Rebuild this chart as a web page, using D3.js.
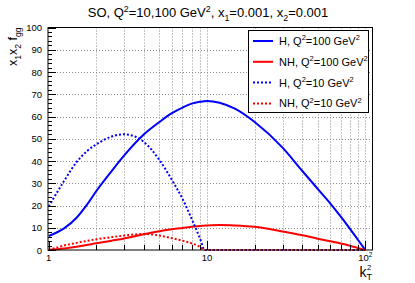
<!DOCTYPE html>
<html>
<head>
<meta charset="utf-8">
<script src="https://cdn.jsdelivr.net/npm/d3@7"></script>
<style>
  body { margin: 0; background: #fff; }
  svg { display: block; font-family: "Liberation Sans", Arial, sans-serif; }
</style>
</head>
<body>
<svg id="chart" width="415" height="283"></svg>
<script>
// values (k_T^2 on a log axis)
const kH100 = [1, 1.25, 1.5, 1.75, 2, 2.5, 3, 4, 5, 6, 7, 8, 9, 10, 12, 15, 20, 30, 40, 50, 60, 70, 80, 90, 100];
const vH100 = [6.3, 9.7, 14.5, 20.5, 26.5, 35.5, 42.5, 52, 57.5, 61.5, 64, 65.8, 66.6, 67, 66.2, 63.5, 57.5, 46, 35.5, 27.5, 21, 15, 9.5, 4.5, 0];

const kNH100 = [1, 1.25, 1.5, 2, 2.5, 3, 4, 5, 6, 7, 8, 9, 10, 12, 15, 20, 30, 40, 50, 60, 70, 80, 90, 100];
const vNH100 = [0, 0.7, 1.5, 3, 4.2, 5.2, 7.1, 8.4, 9.3, 9.9, 10.4, 10.8, 11, 11.2, 11, 10.4, 8.3, 6.6, 5.1, 3.9, 2.9, 1.9, 0.9, 0];

const kH10 = [1, 1.25, 1.5, 1.75, 2, 2.5, 3, 3.5, 4, 5, 6, 7, 8, 9, 9.7, 20, 50, 100];
const vH10 = [19.5, 31, 39.5, 44.5, 47.5, 51, 52, 51, 48.5, 40.5, 31.5, 23, 14, 5.5, 0, 0, 0, 0];

const kNH10 = [1, 1.25, 1.5, 2, 2.5, 3, 3.5, 4, 5, 6, 7, 8, 9, 9.7, 20, 50, 100];
const vNH10 = [0, 2, 3.2, 4.8, 5.8, 6.5, 7, 7.2, 6.5, 5.3, 4.2, 3, 1.5, 0, 0, 0, 0];

const seriesNames = ["H, Q^{2}=100 GeV^{2}", "NH, Q^{2}=100 GeV^{2}", "H, Q^{2}=10 GeV^{2}", "NH, Q^{2}=10 GeV^{2}"];
const yTicks = [0, 10, 20, 30, 40, 50, 60, 70, 80, 90, 100];
const xLabels = [{k: 1, t: "1"}, {k: 10, t: "10"}, {k: 100, t: "10^{2}"}];

const padLeft = 48, padRight = 372.5, padTop = 27.5, padBottom = 250;

var svg = d3.select("#chart");

var x = d3.scaleLog().domain([0.99, 111]).range([padLeft, padRight]);
var y = d3.scaleLinear().domain([0, 100]).range([padBottom, padTop]);

/**
 * writes text with ^{..} and _{..} pieces as tspans
 */
var richText = function(sel, str, size) {
    var parts = str.split(/(\^\{[^}]*\}|_\{[^}]*\})/).filter(p => p !== "");
    var shift = 0;
    parts.forEach(p => {
        var t = sel.append("tspan");
        var target = 0, txt = p, fs = size;
        if (p[0] === "^") { target = -0.42 * size; txt = p.slice(2, -1); fs = size * 0.68; }
        else if (p[0] === "_") { target = 0.3 * size; txt = p.slice(2, -1); fs = size * 0.68; }
        t.attr("dy", target - shift).attr("font-size", fs).text(txt);
        shift = target;
    });
};

// grid
var xMinor = [2, 3, 4, 5, 6, 7, 8, 9, 10, 20, 30, 40, 50, 60, 70, 80, 90, 100];
var grid = svg.append("g").attr("stroke", "#8a8a8a").attr("stroke-width", 1).attr("stroke-dasharray", "1,2");
xMinor.forEach(k => {
    grid.append("line").attr("x1", Math.round(x(k)) + 0.5).attr("x2", Math.round(x(k)) + 0.5)
        .attr("y1", padTop).attr("y2", padBottom);
});
yTicks.slice(1, -1).forEach(v => {
    grid.append("line").attr("x1", padLeft).attr("x2", padRight)
        .attr("y1", Math.round(y(v)) + 0.5).attr("y2", Math.round(y(v)) + 0.5);
});

// curves
var line = d3.line().x(d => x(d[0])).y(d => y(d[1])).curve(d3.curveMonotoneX);
var curves = [
    {k: kH100, v: vH100, color: "#0000ff", dash: null},
    {k: kNH100, v: vNH100, color: "#ff0000", dash: null},
    {k: kH10, v: vH10, color: "#0000ff", dash: "2,2"},
    {k: kNH10, v: vNH10, color: "#ff0000", dash: "2,2"}
];
curves.forEach(c => {
    svg.append("path")
        .datum(c.k.map((k, i) => [k, c.v[i]]))
        .attr("d", line)
        .attr("fill", "none")
        .attr("stroke", c.color)
        .attr("stroke-width", 2)
        .attr("stroke-dasharray", c.dash);
});

// frame
svg.append("rect").attr("x", padLeft).attr("y", padTop).attr("width", padRight - padLeft).attr("height", padBottom - padTop)
    .attr("fill", "none").attr("stroke", "#000").attr("stroke-width", 1);

// y ticks (inside)
var ticks = svg.append("g").attr("stroke", "#000").attr("stroke-width", 1);
for (let v = 0; v <= 100; v += 2) {
    var len = v % 10 === 0 ? 8 : 4;
    ticks.append("line").attr("x1", padLeft).attr("x2", padLeft + len)
        .attr("y1", Math.round(y(v)) + 0.5).attr("y2", Math.round(y(v)) + 0.5);
}
svg.append("g").selectAll("text").data(yTicks).join("text")
    .attr("x", padLeft - 6).attr("y", d => y(d) + 3.5)
    .attr("text-anchor", "end").attr("font-size", 9.5).text(d => d);

// x ticks (inside)
[1, 2, 3, 4, 5, 6, 7, 8, 9, 10, 20, 30, 40, 50, 60, 70, 80, 90, 100].forEach(k => {
    var len = (k === 1 || k === 10 || k === 100) ? 9 : 5;
    ticks.append("line").attr("x1", Math.round(x(k)) + 0.5).attr("x2", Math.round(x(k)) + 0.5)
        .attr("y1", padBottom).attr("y2", padBottom - len);
});
xLabels.forEach(l => {
    var t = svg.append("text").attr("x", x(l.k)).attr("y", 261)
        .attr("text-anchor", "middle").attr("font-size", 9.5);
    richText(t, l.t, 9.5);
});

// titles
var title = svg.append("text").attr("x", 208).attr("y", 17).attr("text-anchor", "middle").attr("font-size", 13);
richText(title, "SO, Q^{2}=10,100 GeV^{2}, x_{1}=0.001, x_{2}=0.001", 13);

var yTitle = svg.append("text").attr("transform", "translate(17," + padTop + ") rotate(-90)")
    .attr("text-anchor", "end").attr("font-size", 12.5);
richText(yTitle, "x_{1}x_{2} f_{gg}", 12.5);

// k_T^2 with sub and sup stacked, right side of the axis
var xTitle = svg.append("g");
xTitle.append("text").attr("x", 366.5).attr("y", 277).attr("text-anchor", "end").attr("font-size", 14).text("k");
xTitle.append("text").attr("x", 366.5).attr("y", 280).attr("font-size", 9).text("T");
xTitle.append("text").attr("x", 367).attr("y", 270).attr("font-size", 7.5).text("2");

// legend
var legend = svg.append("g");
legend.append("rect").attr("x", 248.5).attr("y", 30.5).attr("width", 120).attr("height", 82)
    .attr("fill", "#fff").attr("stroke", "#000").attr("stroke-width", 1);
seriesNames.forEach((name, i) => {
    var ly = 41 + i * 20.8;
    legend.append("line").attr("x1", 253).attr("x2", 273).attr("y1", ly).attr("y2", ly)
        .attr("stroke", curves[i].color).attr("stroke-width", 2)
        .attr("stroke-dasharray", curves[i].dash);
    var t = legend.append("text").attr("x", 279).attr("y", ly + 4).attr("font-size", 11);
    richText(t, name, 11);
});
</script>
</body>
</html>
